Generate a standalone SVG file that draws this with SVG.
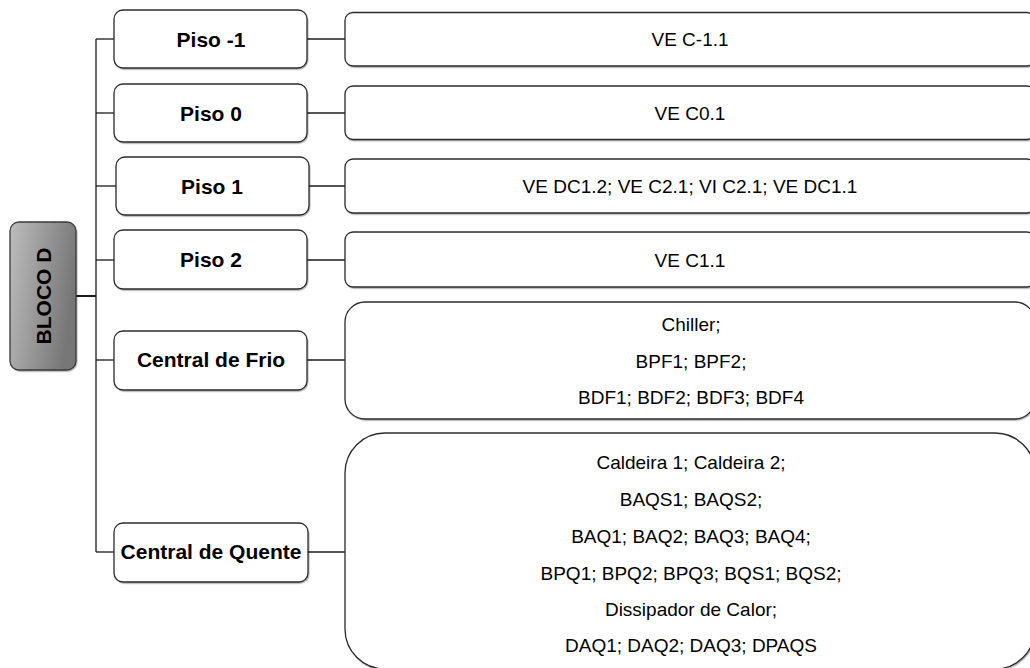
<svg xmlns="http://www.w3.org/2000/svg" width="1030" height="668" viewBox="0 0 1030 668">
  <defs>
    <linearGradient id="gray" x1="0" y1="0" x2="1" y2="0.3">
      <stop offset="0" stop-color="#bdbdbd"/>
      <stop offset="1" stop-color="#777777"/>
    </linearGradient>
    <filter id="sh" x="-5%" y="-5%" width="110%" height="115%">
      <feDropShadow dx="0.8" dy="1.2" stdDeviation="0.7" flood-color="#000" flood-opacity="0.3"/>
    </filter>
  </defs>
  <style>
    .box { fill: #ffffff; stroke: #2b2b2b; stroke-width: 1.3; filter: url(#sh); }
    .root { fill: url(#gray); stroke: #3a3a3a; stroke-width: 1.3; filter: url(#sh); }
    .lbl { font-family: "Liberation Sans", Arial, sans-serif; font-weight: bold; font-size: 21px; fill: #000; text-anchor: middle; }
    .txt { font-family: "Liberation Sans", Arial, sans-serif; font-size: 19px; fill: #000; text-anchor: middle; }
    .ln { stroke: #1a1a1a; stroke-width: 1.3; fill: none; }
  </style>
  <rect width="1030" height="668" fill="#ffffff"/>

  <g id="connectors">
    <line class="ln" x1="76" y1="296" x2="96" y2="296" style="stroke-width:2"/>
    <line class="ln" x1="96" y1="39" x2="96" y2="552"/>
    <line class="ln" x1="96" y1="39" x2="114" y2="39"/>
    <line class="ln" x1="96" y1="113" x2="114" y2="113"/>
    <line class="ln" x1="96" y1="186" x2="116" y2="186"/>
    <line class="ln" x1="96" y1="260" x2="114" y2="260"/>
    <line class="ln" x1="96" y1="360" x2="114" y2="360"/>
    <line class="ln" x1="96" y1="552" x2="114" y2="552"/>
    <line class="ln" x1="307" y1="39" x2="345" y2="39"/>
    <line class="ln" x1="307" y1="113" x2="345" y2="113"/>
    <line class="ln" x1="309" y1="186" x2="345" y2="186"/>
    <line class="ln" x1="307" y1="260" x2="345" y2="260"/>
    <line class="ln" x1="307" y1="360" x2="345" y2="360"/>
    <line class="ln" x1="308" y1="552" x2="345" y2="552"/>
  </g>

  <g id="bloco-d">
    <rect class="root" x="10" y="222" width="66" height="148" rx="9"/>
    <text class="lbl" transform="translate(50.5,296) rotate(-90)" x="0" y="0">BLOCO D</text>
  </g>

  <g id="piso-m1">
    <rect class="box" x="114" y="10" width="193" height="58" rx="9"/>
    <text class="lbl" x="211" y="46.5">Piso -1</text>
  </g>
  <g id="piso-0">
    <rect class="box" x="114" y="84" width="193" height="58" rx="9"/>
    <text class="lbl" x="211" y="120.5">Piso 0</text>
  </g>
  <g id="piso-1">
    <rect class="box" x="116" y="157" width="193" height="58" rx="9"/>
    <text class="lbl" x="212" y="193.5">Piso 1</text>
  </g>
  <g id="piso-2">
    <rect class="box" x="114" y="230" width="193" height="59" rx="9"/>
    <text class="lbl" x="211" y="267">Piso 2</text>
  </g>
  <g id="central-frio">
    <rect class="box" x="114" y="331" width="193" height="59" rx="9"/>
    <text class="lbl" x="211" y="367">Central de Frio</text>
  </g>
  <g id="central-quente">
    <rect class="box" x="114" y="523" width="194" height="59" rx="9"/>
    <text class="lbl" x="211" y="559">Central de Quente</text>
  </g>

  <g id="ve-cm11">
    <rect class="box" x="345" y="12.5" width="690" height="53.5" rx="8"/>
    <text class="txt" x="690" y="46">VE C-1.1</text>
  </g>
  <g id="ve-c01">
    <rect class="box" x="345" y="86" width="690" height="53.5" rx="8"/>
    <text class="txt" x="690" y="120">VE C0.1</text>
  </g>
  <g id="piso1-items">
    <rect class="box" x="345" y="159" width="690" height="54" rx="8"/>
    <text class="txt" x="690" y="193">VE DC1.2; VE C2.1; VI C2.1; VE DC1.1</text>
  </g>
  <g id="ve-c11">
    <rect class="box" x="345" y="232" width="690" height="55" rx="8"/>
    <text class="txt" x="690" y="266.5">VE C1.1</text>
  </g>
  <g id="frio-items">
    <rect class="box" x="345" y="302" width="690" height="117" rx="20"/>
    <text class="txt" x="691" y="331">Chiller;</text>
    <text class="txt" x="691" y="368">BPF1; BPF2;</text>
    <text class="txt" x="691" y="404">BDF1; BDF2; BDF3; BDF4</text>
  </g>
  <g id="quente-items">
    <rect class="box" x="345" y="433" width="690" height="236" rx="40"/>
    <text class="txt" x="691" y="469">Caldeira 1; Caldeira 2;</text>
    <text class="txt" x="691" y="506">BAQS1; BAQS2;</text>
    <text class="txt" x="691" y="543">BAQ1; BAQ2; BAQ3; BAQ4;</text>
    <text class="txt" x="691" y="580">BPQ1; BPQ2; BPQ3; BQS1; BQS2;</text>
    <text class="txt" x="691" y="616">Dissipador de Calor;</text>
    <text class="txt" x="691" y="652">DAQ1; DAQ2; DAQ3; DPAQS</text>
  </g>
</svg>
